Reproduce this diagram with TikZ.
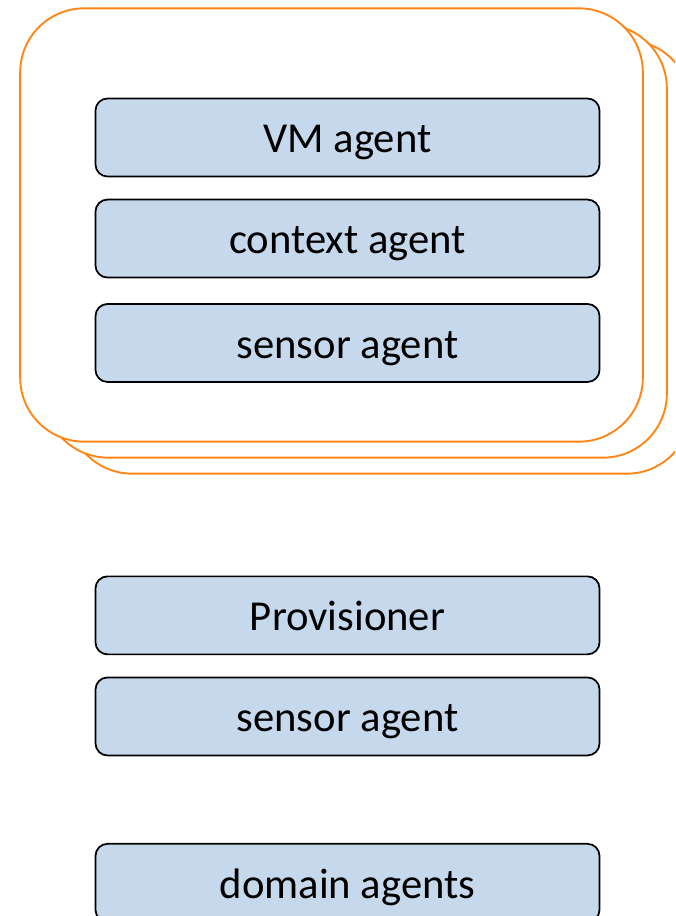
\documentclass[tikz,border=0pt]{standalone}
\usepackage{fontspec}
\setmainfont{Carlito}
\usetikzlibrary{positioning}
\definecolor{agentblue}{RGB}{197,216,236}
\definecolor{hostorange}{RGB}{255,133,20}
\tikzstyle{agent}=[draw=black, fill=agentblue, line width=1.3pt, rounded corners=9pt,
    minimum width=378pt, minimum height=58.5pt, text height=23pt, text depth=0pt,
    font=\fontsize{32}{36}\selectfont]
\tikzstyle{host}=[draw=hostorange, fill=white, line width=1.4pt, rounded corners=48pt,
    minimum width=467pt, minimum height=325pt]

\begin{document}
\begin{tikzpicture}[x=0.75pt, y=-0.75pt, node distance=16pt]
\useasboundingbox (0,0) rectangle (675,916);
\clip (0,0) rectangle (675,916);

% stacked hosts, back to front
\node[host] (host3) at (379.5,257) {};
\node[host] (host2) at (355.5,241) {};
\node[host] (host1) at (331.5,225) {};

\node[agent] (vm) at (347.5,137.5) {VM agent};
\node[agent, below=of vm] (context) {context agent};
\node[agent, below=18.5pt of context] (sensor) {sensor agent};

\node[agent, below=144.5pt of sensor] (prov) {Provisioner};
\node[agent, below=of prov] (sensor2) {sensor agent};

\node[agent, below=65pt of sensor2] (domain) {domain agents};
\end{tikzpicture}
\end{document}
